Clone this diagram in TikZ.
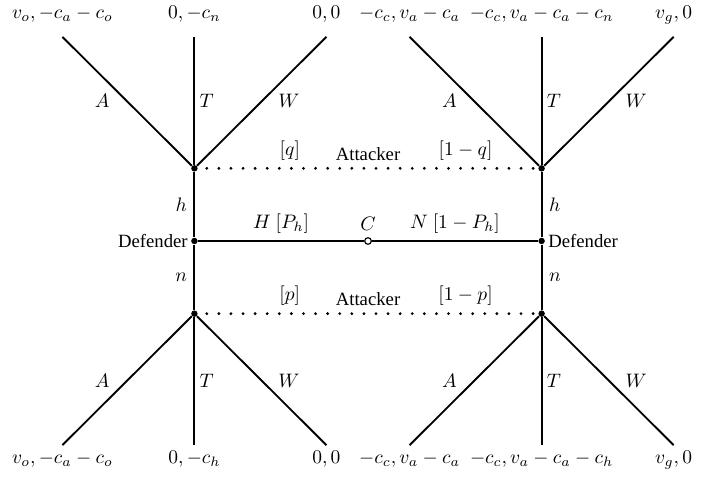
\documentclass[tikz,border=0pt]{standalone}
\usepackage{fontspec}
\setmainfont{Liberation Serif}
\usetikzlibrary{positioning,calc}
\tikzset{
  dec/.style={circle,fill=black,inner sep=0pt,minimum size=3.3pt},
  chance/.style={circle,draw=black,fill=white,line width=0.6pt,inner sep=0pt,minimum size=3.4pt},
  br/.style={draw=black,line width=0.95pt},
  info/.style={draw=black,line width=1.6pt,line cap=round,dash pattern=on 0pt off 6.2pt,dash phase=1.7pt},
  txt/.style={font=\fontsize{9.6pt}{11pt}\selectfont},
  who/.style={txt,inner sep=1.4pt},
  lbl/.style={inner sep=0pt},
  pay/.style={inner xsep=0pt,text height=6.5pt,text depth=2pt},
  paytop/.style={pay,anchor=south,inner ysep=7.2pt},
  paybot/.style={pay,anchor=north,inner ysep=2.7pt},
}
\begin{document}
\begin{tikzpicture}
  \useasboundingbox (-6.635,-4.327) rectangle (6.274,4.345);
  % chance and decision nodes
  \node[chance,label={[name=clbl]above:$C$}] (c) at (0,0) {};
  \node[dec] (dl) at (-3.13,0) {};
  \node[dec] (dr) at (3.13,0) {};
  \node[dec] (aul) at (-3.13,1.31) {};
  \node[dec] (aur) at (3.13,1.31) {};
  \node[dec] (all) at (-3.13,-1.31) {};
  \node[dec] (alr) at (3.13,-1.31) {};
  \node[who,left=0pt of dl] (dlt) {Defender};
  \node[who,right=0pt of dr] (drt) {Defender};
  % payoffs
  \node[paytop] (ulo) at ($(aul)+(-2.38,2.37)$) {$v_o, -c_a - c_o$};
  \node[paytop] (ult) at ($(aul)+(0,2.37)$) {$0, -c_n$};
  \node[paytop] (ulw) at ($(aul)+(2.38,2.37)$) {$0, 0$};
  \node[paytop] (uro) at ($(aur)+(-2.38,2.37)$) {$-c_c, v_a - c_a$};
  \node[paytop] (urt) at ($(aur)+(0,2.37)$) {$-c_c, v_a - c_a - c_n$};
  \node[paytop] (urw) at ($(aur)+(2.38,2.37)$) {$v_g, 0$};
  \node[paybot] (llo) at ($(all)+(-2.38,-2.37)$) {$v_o, -c_a - c_o$};
  \node[paybot] (llt) at ($(all)+(0,-2.37)$) {$0, -c_h$};
  \node[paybot] (llw) at ($(all)+(2.38,-2.37)$) {$0, 0$};
  \node[paybot] (lro) at ($(alr)+(-2.38,-2.37)$) {$-c_c, v_a - c_a$};
  \node[paybot] (lrt) at ($(alr)+(0,-2.37)$) {$-c_c, v_a - c_a - c_h$};
  \node[paybot] (lrw) at ($(alr)+(2.38,-2.37)$) {$v_g, 0$};
  % attacker branches
  \draw[br] (aul) -- node[lbl,xshift=-4.5mm] (ulA) {$A$} (ulo.south);
  \draw[br] (aul) -- node[lbl,xshift=2.2mm] (ulT) {$T$} (ult.south);
  \draw[br] (aul) -- node[lbl,xshift=4.9mm] (ulW) {$W$} (ulw.south);
  \draw[br] (aur) -- node[lbl,xshift=-4.5mm] (urA) {$A$} (uro.south);
  \draw[br] (aur) -- node[lbl,xshift=2.2mm] (urT) {$T$} (urt.south);
  \draw[br] (aur) -- node[lbl,xshift=4.9mm] (urW) {$W$} (urw.south);
  \draw[br] (all) -- node[lbl,xshift=-4.5mm] (llA) {$A$} (llo.north);
  \draw[br] (all) -- node[lbl,xshift=2.2mm] (llT) {$T$} (llt.north);
  \draw[br] (all) -- node[lbl,xshift=4.9mm] (llW) {$W$} (llw.north);
  \draw[br] (alr) -- node[lbl,xshift=-4.5mm] (lrA) {$A$} (lro.north);
  \draw[br] (alr) -- node[lbl,xshift=2.2mm] (lrT) {$T$} (lrt.north);
  \draw[br] (alr) -- node[lbl,xshift=4.9mm] (lrW) {$W$} (lrw.north);
  % defender moves
  \draw[br] (dl) -- node[left] (hl) {$h$} (aul);
  \draw[br] (dl) -- node[left] (nl) {$n$} (all);
  \draw[br] (dr) -- node[right] (hr) {$h$} (aur);
  \draw[br] (dr) -- node[right] (nr) {$n$} (alr);
  % nature
  \draw[br] (dl) -- node[above] (hc) {$H\ [P_h]$} (c);
  \draw[br] (c) -- node[above] (nc) {$N\ [1-P_h]$} (dr);
  % information sets
  \draw[info] (aul) -- node[above,pos=0.27] (qu) {$[q]$}
    node[above,txt] (atu) {Attacker} node[above,pos=0.787] (qnu) {$[1-q]$} (aur);
  \draw[info] (all) -- node[above,pos=0.27] (pl) {$[p]$}
    node[above,txt] (atl) {Attacker} node[above,pos=0.787] (pnl) {$[1-p]$} (alr);
\end{tikzpicture}
\end{document}
